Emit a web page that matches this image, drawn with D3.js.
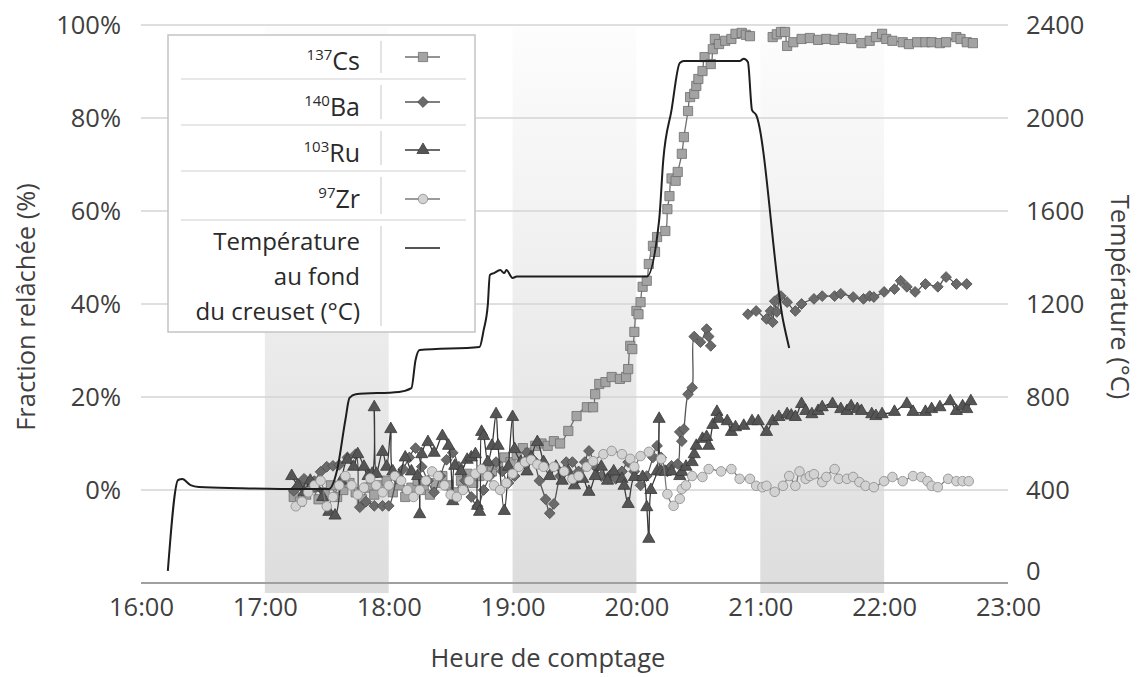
<!DOCTYPE html>
<html>
<head>
<meta charset="utf-8">
<script src="https://cdn.jsdelivr.net/npm/d3@7"></script>
<style>
  body { margin: 0; background: #fff; }
  svg { font-family: "Open Sans", sans-serif; }
</style>
</head>
<body>
<svg id="chart" width="1139" height="677"></svg>
<script>
// shaded hours and axis ticks
let bandStarts = ["17:00", "19:00", "21:00"];
let hourTicks = ["16:00", "17:00", "18:00", "19:00", "20:00", "21:00", "22:00", "23:00"];
let fractionTicks = [0, 20, 40, 60, 80, 100];
let tempTicks = [0, 400, 800, 1200, 1600, 2000, 2400];

// released fraction (%) per counting time
let csData = [["17:14",-1.5],["17:17",-2.5],["17:20",-1],["17:23",0.5],["17:26",-2],["17:29",-0.5],["17:32",1],["17:35",-1.5],["17:38",0],["17:41",1.5],["17:44",-0.5],["17:47",-2],["17:50",0.5],["17:53",-1],["17:56",1],["17:59",2],["18:02",-0.5],["18:05",1],["18:08",-1.5],["18:11",0.5],["18:14",2],["18:17",0],["18:20",-1],["18:23",1.5],["18:26",3],["18:29",1],["18:32",-0.5],["18:35",2],["18:38",3.5],["18:41",1.5],["18:44",3],["18:47",4.5],["18:50",4],["18:53",5.5],["18:56",7],["18:59",6],["19:02",7.5],["19:05",9],["19:08",8],["19:11",9.5],["19:14",10],["19:17",9.5],["19:20",10.5],["19:23",10],["19:27",12.7],["19:31",15.9],["19:36",17.8],["19:39",17.8],["19:40",20.6],["19:42",22.8],["19:45",23.2],["19:48",24.3],["19:52",23.9],["19:55",24.3],["19:56",26],["19:57",31],["19:58",30.3],["19:59",34],["20:00",38.5],["20:01",37.8],["20:02",40.4],["20:03",43.7],["20:05",45],["20:06",48.6],["20:08",52.5],["20:09",51.2],["20:10",54.4],["20:14",55.7],["20:15",60.4],["20:16",63.2],["20:17",67],["20:19",66.5],["20:20",68.4],["20:22",72.3],["20:23",75.9],["20:25",81.5],["20:26",84.5],["20:28",85.2],["20:29",86.9],["20:30",88.4],["20:32",90.1],["20:33",93.1],["20:36",91.6],["20:37",94.8],["20:38",97],["20:40",95.9],["20:43",96.6],["20:46",97],["20:48",98.1],["20:51",98.3],["20:53",97.9],["20:55",97.6],["21:00",null],["21:06",97.4],["21:08",98],["21:10",98.5],["21:12",98.5],["21:13",95.5],["21:16",96.3],["21:20",97],["21:24",97.2],["21:28",96.8],["21:32",97],["21:36",96.8],["21:40",97.2],["21:44",97],["21:49",96.1],["21:53",96.6],["21:56",97.4],["21:59",98.1],["22:01",97],["22:04",96.6],["22:09",96.3],["22:12",95.9],["22:16",96.3],["22:20",96.3],["22:23",96.3],["22:27",96.1],["22:30",96.3],["22:35",97.4],["22:37",97],["22:40",96.3],["22:43",96.1]];

let baData = [["17:14",-0.2],["17:17",1],["17:19",2.4],["17:22",0.5],["17:24",1.9],["17:27",3.9],["17:30",5],["17:33",5.2],["17:36",5.4],["17:40",7],["17:44",7.7],["17:46",-3.7],["17:49",-2.5],["17:53",-3.4],["17:57",-3.4],["18:00",-3.4],["18:04",2.4],["18:07",4.5],["18:10",7],["18:13",9],["18:16",5],["18:19",2],["18:22",-0.5],["18:25",3],["18:28",6.5],["18:31",8],["18:34",5],["18:37",2],["18:40",-1.5],["18:43",-3.5],["18:46",0],["18:49",3],["18:52",6],["18:55",4],["18:58",1.5],["19:01",3],["19:04",5.5],["19:07",8],["19:10",6.5],["19:13",2],["19:16",-2],["19:18",-5],["19:20",-3],["19:23",3],["19:26",6],["19:29",6],["19:32",4],["19:35",6],["19:37",8.4],["19:40",5],["19:43",3],["19:46",2.4],["19:48",3.5],["19:50",2.4],["19:53",4],["19:56",6],["19:59",4],["20:02",1],["20:05",3],["20:08",7],["20:10",9.5],["20:12",7],["20:15",4],["20:17",5.2],["20:20",5.6],["20:21",12.5],["20:22",10.5],["20:23",13.1],["20:25",20.6],["20:27",22],["20:28",33],["20:31",31.8],["20:34",34.6],["20:35",33],["20:36",31],["20:45",null],["20:54",37.8],["20:58",38.5],["21:03",36.8],["21:05",38.5],["21:06",36.1],["21:07",40.6],["21:08",38.3],["21:10",41.7],["21:13",40.4],["21:17",38.5],["21:20",40],["21:26",41.1],["21:30",41.7],["21:36",41.7],["21:39",42.2],["21:45",41.5],["21:50",41.1],["21:53",41.7],["21:55",41.5],["22:00",42.6],["22:05",43.2],["22:08",45],["22:11",43.7],["22:15",42.6],["22:20",44.3],["22:26",43.7],["22:30",45.8],["22:35",44.3],["22:40",44.3]];

let ruData = [["17:13",3],["17:16",1],["17:19",-0.5],["17:22",2],["17:25",0.5],["17:28",-1.5],["17:31",-4.7],["17:34",-5.5],["17:37",2],["17:40",6.5],["17:43",5],["17:45",7.7],["17:48",5],["17:50",3],["17:52",3.5],["17:53",17.8],["17:54",3.5],["17:57",8.2],["17:59",5],["18:01",13.1],["18:02",4],["18:05",3],["18:08",7],["18:11",4],["18:14",3],["18:15",-5.2],["18:16",7.7],["18:19",10.3],["18:22",8],["18:26",11.6],["18:29",9.5],["18:31",-2.4],["18:32",5.2],["18:35",4],["18:38",6.5],["18:40",7],["18:42",7.7],["18:43",-3.4],["18:44",-4.7],["18:45",12.5],["18:46",11.6],["18:48",6],["18:50",9.5],["18:52",16.3],["18:53",9.5],["18:56",-4.5],["18:58",5],["19:00",15.7],["19:01",8.8],["19:04",6],["19:07",4],["19:09",7],["19:12",10.3],["19:15",6],["19:18",3],["19:21",5],["19:24",2],["19:27",4],["19:30",1],["19:34",2.4],["19:37",-0.4],["19:40",3],["19:43",5],["19:46",2],["19:49",4],["19:53",2.4],["19:54",0.9],["19:56",-3],["19:59",2.8],["20:03",2.8],["20:05",-3.7],["20:06",-10.5],["20:07",0],["20:10",4],["20:11",15.3],["20:12",4],["20:14",3.9],["20:17",4],["20:21",3],["20:22",3.9],["20:24",5],["20:27",6],["20:28",7.7],["20:29",9.5],["20:32",11],["20:34",11.4],["20:35",9.5],["20:37",14],["20:39",16.8],["20:40",15.3],["20:44",14.8],["20:46",12.5],["20:48",13.5],["20:52",13.8],["20:56",14.8],["20:59",14.8],["21:03",12.5],["21:06",14.8],["21:09",15.7],["21:13",16.3],["21:15",16],["21:17",15.7],["21:20",18.5],["21:22",17],["21:25",16.3],["21:28",17],["21:30",17.8],["21:35",18.5],["21:39",17.4],["21:42",17],["21:44",18],["21:47",17.4],["21:49",17],["21:54",16.3],["21:56",15.9],["21:59",16.3],["22:05",16.8],["22:11",18.5],["22:14",16.8],["22:20",16.8],["22:23",17.4],["22:27",17.8],["22:32",19.1],["22:35",17],["22:38",18],["22:40",17.4],["22:42",19.1]];

let zrData = [["17:15",-3.5],["17:18",-2.5],["17:21",-0.5],["17:24",1],["17:27",2],["17:30",-3.5],["17:33",-1.5],["17:36",1],["17:39",3],["17:42",1],["17:45",-1],["17:48",0.5],["17:51",2.5],["17:54",1],["17:57",-0.5],["18:00",1],["18:03",3],["18:06",2],["18:09",0],["18:12",-1.5],["18:15",0],["18:18",2],["18:21",4],["18:24",3],["18:27",1],["18:30",-1],["18:33",-1.5],["18:36",0],["18:39",2],["18:42",3.5],["18:45",4.5],["18:48",3],["18:51",1],["18:54",0],["18:57",1.5],["19:00",3.5],["19:03",5],["19:06",6],["19:09",6.5],["19:12",5.5],["19:15",5],["19:20",5],["19:25",4],["19:29",2.4],["19:32",3],["19:36",5],["19:39",6.2],["19:44",7.7],["19:48",8.4],["19:53",7.7],["19:57",6.7],["19:59",5],["20:02",7.3],["20:06",8.2],["20:12",6.7],["20:15",-0.9],["20:18",-3.4],["20:21",-1.9],["20:22",0.2],["20:24",1],["20:27",3],["20:32",2.8],["20:35",4.5],["20:41",4],["20:46",4.5],["20:50",2.4],["20:55",2.4],["20:58",0.9],["21:01",0.6],["21:03",0.9],["21:07",-0.4],["21:11",0.9],["21:14",3],["21:17",0.9],["21:19",4],["21:22",2.4],["21:24",3],["21:26",3.4],["21:30",1.7],["21:32",2.8],["21:36",4.5],["21:38",2.4],["21:42",2.4],["21:45",2.8],["21:48",1.7],["21:51",0.9],["21:55",0.6],["22:00",1.9],["22:04",2.8],["22:09",1.9],["22:14",3],["22:18",2.8],["22:21",1.9],["22:23",0.9],["22:26",0.6],["22:31",2.4],["22:35",1.9],["22:38",1.9],["22:41",1.9]];

// crucible bottom temperature (°C)
let tempData = [["16:13",52],["16:18",443],["16:20",447],["16:24",421],["16:28",413],["16:48",408],["17:17",404],["17:31",404],["17:35",486],["17:39",701],["17:41",796],["17:44",812],["18:05",822],["18:11",838],["18:13",959],["18:15",1002],["18:44",1015],["18:46",1088],["18:48",1196],["18:49",1325],["18:51",1333],["18:54",1346],["18:56",1333],["18:57",1346],["19:00",1312],["19:02",1318],["20:05",1318],["20:11",1561],["20:13",1819],["20:17",2034],["20:21",2237],["20:23",2245],["20:50",2245],["20:52",2255],["20:54",2241],["20:56",2034],["20:58",2013],["21:11",1131],["21:14",1011]];

let parseTime = d3.timeParse("%H:%M");
let svg = d3.select("#chart");

let plotLeft = 141, plotRight = 1008, plotTop = 25, plotBottom = 583;
let textColor = "#404040";
let axisFont = 25.5;

let x = d3.scaleTime()
  .domain([parseTime("16:00"), parseTime("23:00")])
  .range([plotLeft, plotRight]);
let yL = d3.scaleLinear().domain([-20, 100]).range([plotBottom, plotTop]);
let yR = d3.scaleLinear().domain([0, 2400]).range([plotBottom, plotTop]);

// band gradient
let defs = svg.append("defs");
let grad = defs.append("linearGradient")
  .attr("id", "band").attr("x1", 0).attr("y1", 0).attr("x2", 0).attr("y2", 1);
grad.append("stop").attr("offset", "0%").attr("stop-color", "#fdfdfd");
grad.append("stop").attr("offset", "100%").attr("stop-color", "#dddddd");

svg.append("g").selectAll("rect")
  .data(bandStarts)
  .enter().append("rect")
  .attr("x", d => x(parseTime(d)))
  .attr("y", plotTop)
  .attr("width", d => x(d3.timeHour.offset(parseTime(d), 1)) - x(parseTime(d)))
  .attr("height", plotBottom + 10 - plotTop)
  .attr("fill", "url(#band)");

// gridlines
svg.append("g").selectAll("line")
  .data(fractionTicks)
  .enter().append("line")
  .attr("x1", plotLeft).attr("x2", plotRight)
  .attr("y1", d => yL(d)).attr("y2", d => yL(d))
  .attr("stroke", "#d4d4d4").attr("stroke-width", 1.5);

svg.append("line")
  .attr("x1", plotLeft).attr("x2", plotRight)
  .attr("y1", plotBottom).attr("y2", plotBottom)
  .attr("stroke", "#a0a0a0").attr("stroke-width", 2);

// axes
let xAxis = d3.axisBottom(x)
  .tickValues(hourTicks.map(parseTime))
  .tickFormat(d3.timeFormat("%H:%M"))
  .tickSize(0).tickPadding(15);
let gx = svg.append("g").attr("transform", `translate(0,${plotBottom})`).call(xAxis);

let yAxisL = d3.axisLeft(yL).tickValues(fractionTicks).tickFormat(d => d + "%").tickSize(0).tickPadding(20);
let gyl = svg.append("g").attr("transform", `translate(${plotLeft},0)`).call(yAxisL);

let yAxisR = d3.axisRight(yR).tickValues(tempTicks).tickFormat(d3.format("d")).tickSize(0).tickPadding(18);
let gyr = svg.append("g").attr("transform", `translate(${plotRight},0)`).call(yAxisR);

[gx, gyl, gyr].forEach(g => {
  g.select(".domain").remove();
  g.selectAll("text").attr("font-size", axisFont).attr("fill", textColor)
    .attr("font-family", "Open Sans, sans-serif");
});
// lift the bottom right label a little so it clears 23:00
gyr.selectAll(".tick text").filter(d => d === 0).attr("dy", "-0.15em");

// axis titles
svg.append("text")
  .attr("x", 548).attr("y", 667)
  .attr("text-anchor", "middle").attr("font-size", axisFont).attr("fill", textColor)
  .text("Heure de comptage");
svg.append("text")
  .attr("transform", "translate(35,307) rotate(-90)")
  .attr("text-anchor", "middle").attr("font-size", axisFont).attr("fill", textColor)
  .text("Fraction relâchée (%)");
svg.append("text")
  .attr("transform", "translate(1111,297) rotate(90)")
  .attr("text-anchor", "middle").attr("font-size", axisFont).attr("fill", textColor)
  .text("Température (°C)");

// series
let series = [
  { name: "Cs", data: csData, symbol: d3.symbolSquare, size: 85, rotate: 0, fill: "#a3a3a3", stroke: "#6f6f6f", line: "#6f6f6f" },
  { name: "Ba", data: baData, symbol: d3.symbolSquare, size: 58, rotate: 45, fill: "#6a6a6a", stroke: "#4f4f4f", line: "#555555" },
  { name: "Ru", data: ruData, symbol: d3.symbolTriangle, size: 64, rotate: 0, fill: "#555555", stroke: "#3a3a3a", line: "#3a3a3a" },
  { name: "Zr", data: zrData, symbol: d3.symbolCircle, size: 72, rotate: 0, fill: "#d2d2d2", stroke: "#8a8a8a", line: "#7a7a7a" }
];

let line = d3.line()
  .defined(d => d[1] !== null)
  .x(d => x(parseTime(d[0])))
  .curve(d3.curveCatmullRom.alpha(0.5));

series.forEach(s => {
  svg.append("path")
    .datum(s.data)
    .attr("d", line.y(d => yL(d[1])))
    .attr("fill", "none")
    .attr("stroke", s.line)
    .attr("stroke-width", 1.3);

  svg.append("g").selectAll("path")
    .data(s.data.filter(d => d[1] !== null))
    .enter().append("path")
    .attr("d", d3.symbol().type(s.symbol).size(s.size))
    .attr("transform", d => `translate(${x(parseTime(d[0]))},${yL(d[1])}) rotate(${s.rotate})`)
    .attr("fill", s.fill)
    .attr("stroke", s.stroke)
    .attr("stroke-width", 0.8);
});

// temperature
svg.append("path")
  .datum(tempData)
  .attr("d", d3.line()
    .x(d => x(parseTime(d[0])))
    .y(d => yR(d[1]))
    .curve(d3.curveMonotoneX))
  .attr("fill", "none")
  .attr("stroke", "#1e1e1e")
  .attr("stroke-width", 2);

// legend
let legend = svg.append("g");
legend.append("rect")
  .attr("x", 168).attr("y", 35).attr("width", 307).attr("height", 297)
  .attr("fill", "#fff").attr("stroke", "#c4c4c4").attr("stroke-width", 1.5);

let rows = [
  { mass: "137", el: "Cs", y: 70, sy: 57, y1: 41, y2: 73 },
  { mass: "140", el: "Ba", y: 116, sy: 102, y1: 85, y2: 119 },
  { mass: "103", el: "Ru", y: 162, sy: 150, y1: 131, y2: 165 },
  { mass: "97", el: "Zr", y: 208, sy: 199, y1: 177, y2: 214 }
];
[79, 125, 171, 220].forEach(yy => {
  legend.append("line").attr("x1", 181).attr("x2", 466).attr("y1", yy).attr("y2", yy)
    .attr("stroke", "#d0d0d0").attr("stroke-width", 1.2);
});
rows.concat([{ y1: 226, y2: 326 }]).forEach(r => {
  legend.append("line").attr("x1", 381).attr("x2", 381).attr("y1", r.y1).attr("y2", r.y2)
    .attr("stroke", "#d0d0d0").attr("stroke-width", 1.2);
});

rows.forEach((r, i) => {
  let t = legend.append("text")
    .attr("x", 360).attr("y", r.y)
    .attr("text-anchor", "end").attr("font-size", 25).attr("fill", "#2a2a2a");
  t.append("tspan").attr("font-size", 15).attr("dy", -10).text(r.mass);
  t.append("tspan").attr("dy", 10).text(r.el);

  let s = series[i];
  legend.append("line").attr("x1", 405).attr("x2", 440).attr("y1", r.sy).attr("y2", r.sy)
    .attr("stroke", s.line).attr("stroke-width", 1.4);
  legend.append("path")
    .attr("d", d3.symbol().type(s.symbol).size(s.size))
    .attr("transform", `translate(423,${r.sy}) rotate(${s.rotate})`)
    .attr("fill", s.fill).attr("stroke", s.stroke).attr("stroke-width", 0.8);
});

["Température", "au fond", "du creuset (°C)"].forEach((txt, i) => {
  legend.append("text")
    .attr("x", 360).attr("y", 250 + i * 35)
    .attr("text-anchor", "end").attr("font-size", 24).attr("fill", "#2a2a2a")
    .text(txt);
});
legend.append("line").attr("x1", 405).attr("x2", 440).attr("y1", 248).attr("y2", 248)
  .attr("stroke", "#555").attr("stroke-width", 2);
</script>
</body>
</html>
